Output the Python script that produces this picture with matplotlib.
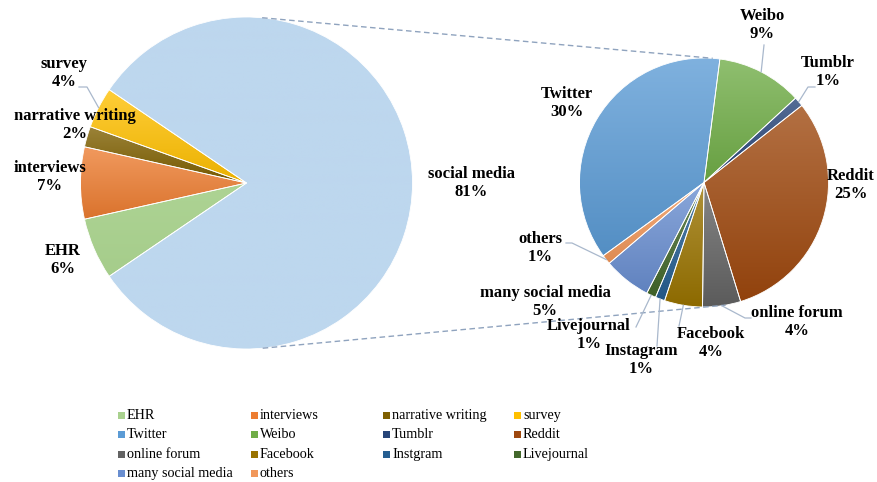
import matplotlib
matplotlib.use('Agg')
import matplotlib.pyplot as plt
import numpy as np
from matplotlib.colors import to_rgb
from matplotlib.patches import Rectangle

# ---------------- data ----------------
main_labels = ['EHR', 'interviews', 'narrative writing', 'survey', 'social media']
main_values = [6, 7, 2, 4, 81]
main_colors = ['#A9D18E', '#ED7D31', '#7F6000', '#FFC000', '#BDD7EE']

sub_labels = ['Twitter', 'Weibo', 'Tumblr', 'Reddit', 'online forum', 'Facebook',
              'Instagram', 'Livejournal', 'many social media', 'others']
sub_values = [30, 9, 1, 25, 4, 4, 1, 1, 5, 1]
sub_colors = ['#5B9BD5', '#70AD47', '#264478', '#9E480E', '#636363', '#997300',
              '#255E91', '#43682B', '#698ED0', '#F1975A']

legend_labels = ['EHR', 'interviews', 'narrative writing', 'survey',
                 'Twitter', 'Weibo', 'Tumblr', 'Reddit',
                 'online forum', 'Facebook', 'Instgram', 'Livejournal',
                 'many social media', 'others']
legend_colors = main_colors[:4] + sub_colors

# ---------------- layout ----------------
W, H = 877, 482
plt.rcParams['font.family'] = ['Liberation Serif', 'DejaVu Serif']

fig = plt.figure(figsize=(W / 100, H / 100), dpi=100)
ax = fig.add_axes([0, 0, 1, 1])

def py(y):  # pixel-from-top -> data y
    return H - y

c1, r1 = (246.5, py(183)), 166
c2, r2 = (704, py(182.5)), 124.5

def mix(c, other, t):
    c = np.array(to_rgb(c)); o = np.array(to_rgb(other))
    return c * (1 - t) + o * t

def gradient_fill(wedge, base, light=0.22, dark=0.08):
    wedge.set_facecolor('none')
    bb = wedge.get_path().get_extents(wedge.get_patch_transform())
    top = mix(base, 'white', light)
    bot = mix(base, 'black', dark)
    n = 64
    t = np.linspace(0, 1, n)[:, None, None]
    img = top[None, None, :] * (1 - t) + bot[None, None, :] * t
    im = ax.imshow(img, extent=(bb.x0, bb.x1, bb.y0, bb.y1), origin='upper',
                   aspect='auto', interpolation='bilinear', zorder=1)
    im.set_clip_path(wedge)

w1, _ = ax.pie(main_values, colors=main_colors, startangle=214.2, counterclock=False,
               center=c1, radius=r1, wedgeprops=dict(edgecolor='white', linewidth=0.6))
w2, _ = ax.pie(sub_values, colors=sub_colors, startangle=216, counterclock=False,
               center=c2, radius=r2, wedgeprops=dict(edgecolor='white', linewidth=0.6))

for w, col, lab in zip(w1, main_colors, main_labels):
    if lab == 'social media':
        gradient_fill(w, col, 0.0, 0.0)
    elif lab == 'EHR':
        gradient_fill(w, col, 0.05, 0.02)
    else:
        gradient_fill(w, col)
    w.set_zorder(2)
for w, col in zip(w2, sub_colors):
    gradient_fill(w, col)
    w.set_zorder(2)

# connector lines (dashed) between the two pies
def on_circle(c, r, ang):
    a = np.deg2rad(ang)
    return c[0] + r * np.cos(a), c[1] + r * np.sin(a)

for a_left, a_right in [(84.6, 86.0), (-84.4, -80.0)]:
    p = on_circle(c1, r1, a_left)
    q = on_circle(c2, r2, a_right)
    ax.plot([p[0], q[0]], [p[1], q[1]], ls=(0, (4, 2.5)), lw=1.0, color='#8FA3BE', zorder=3)

# ---------------- data labels ----------------
lead_col = '#A9B8CC'
lab_font = dict(fontsize=12, fontweight='bold', ha='center', va='center',
                linespacing=1.15, color='black', zorder=5)

def mid_angles(values, start):
    tot = sum(values)
    out = []
    a = start
    for v in values:
        span = 360 * v / tot
        out.append(a - span / 2)
        a -= span
    return out

main_mid = mid_angles(main_values, 214.2)
sub_mid = mid_angles(sub_values, 216)

# label centre (px) and leader end points (px) for each slice
main_pos = {'EHR': (63, 260), 'interviews': (50, 177), 'narrative writing': (75, 125),
            'survey': (64, 73), 'social media': (471, 183)}
main_lead = {'survey': [(79, 87), (87, 87)]}

sub_pos = {'Twitter': (567, 103), 'Weibo': (762, 25), 'Tumblr': (828, 72),
           'Reddit': (851, 185), 'online forum': (797, 322), 'Facebook': (711, 343),
           'Instagram': (641, 360), 'Livejournal': (589, 335),
           'many social media': (545, 302), 'others': (540, 248)}
sub_lead = {'Weibo': [(764, 45)], 'Tumblr': [(815, 87), (808, 87)],
            'others': [(566, 243), (572, 243)], 'Livejournal': [(636, 327)],
            'Instagram': [(657, 346)], 'Facebook': [(679, 326)],
            'online forum': [(751, 318), (745, 318)]}

for labs, vals, mids, pos, lead, c, r in [
        (main_labels, main_values, main_mid, main_pos, main_lead, c1, r1),
        (sub_labels, sub_values, sub_mid, sub_pos, sub_lead, c2, r2)]:
    for lab, v, m in zip(labs, vals, mids):
        x, y = pos[lab]
        ax.text(x, py(y), f'{lab}\n{v}%', **lab_font)
        if lab in lead:
            pts = [(px_, py(py_)) for px_, py_ in lead[lab]]
            pts.append(on_circle(c, r, m))
            xs, ys = zip(*pts)
            ax.plot(xs, ys, color=lead_col, lw=0.9, zorder=4)

# ---------------- legend ----------------
col_x = [118, 251, 383, 514]
row_y = [415, 434, 454, 473]
for i, (lab, col) in enumerate(zip(legend_labels, legend_colors)):
    x = col_x[i % 4]
    y = row_y[i // 4]
    ax.add_patch(Rectangle((x, py(y) - 3.5), 7, 7, facecolor=col, edgecolor='none'))
    ax.text(x + 9, py(y) - 0.5, lab, fontsize=10.2, ha='left', va='center', color='black')

ax.set_xlim(0, W)
ax.set_ylim(0, H)
ax.set_aspect('auto')
ax.axis('off')

fig.savefig('out.png', dpi=100)
